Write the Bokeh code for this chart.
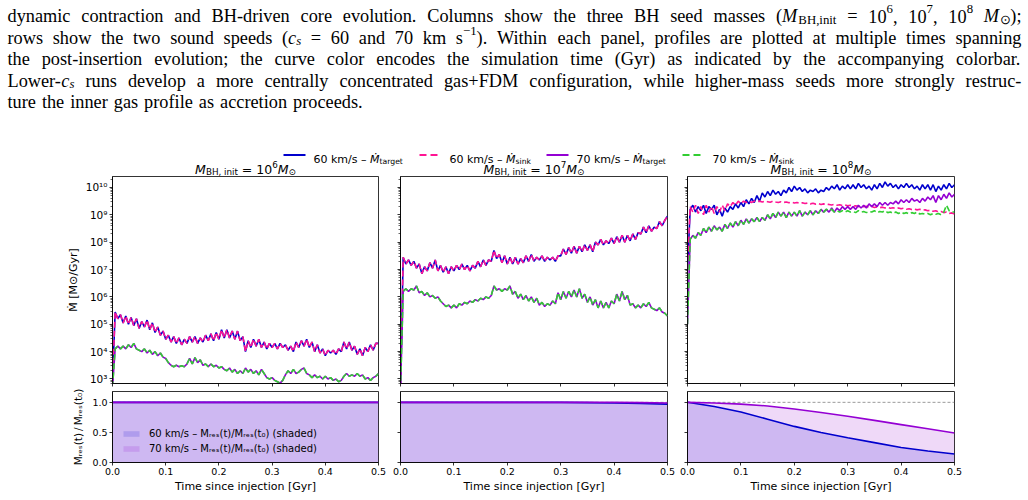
import re
import numpy as np
from bokeh.plotting import figure
from bokeh.layouts import column, row
from bokeh.models import (Range1d, FixedTicker, PrintfTickFormatter, CustomJSTickFormatter,
                          Legend, LegendItem, ColumnDataSource, Span)
from bokeh.embed import file_html
from bokeh.resources import INLINE
from bokeh.core.properties import value, field

# ---------------------------------------------------------------- data
# time since injection [Gyr]
t = np.round(np.arange(101) * 0.005, 3)

# log10 of accretion rate [Msun/Gyr]
p1_60_target = [2.9, 5.45, 5.2, 5.35, 5.05, 5.3, 5.0, 5.25, 4.95, 5.2,
                4.85, 5.1, 4.9, 5.15, 4.8, 5.05, 4.7, 4.9, 4.6, 4.75,
                4.45, 4.6, 4.35, 4.55, 4.3, 4.5, 4.25, 4.45, 4.3, 4.55,
                4.35, 4.55, 4.3, 4.5, 4.35, 4.6, 4.4, 4.65, 4.4, 4.7,
                4.45, 4.8, 4.5, 4.8, 4.5, 4.75, 4.45, 4.75, 4.4, 4.55,
                4.0, 4.4, 4.15, 4.45, 4.2, 4.45, 4.15, 4.35, 4.1, 4.3,
                4.15, 4.3, 4.1, 4.3, 4.15, 4.25, 4.05, 4.2, 4.0, 4.35,
                4.15, 4.4, 4.2, 4.45, 4.15, 4.35, 4.0, 4.25, 3.95, 4.1,
                3.85, 4.05, 3.95, 4.05, 3.9, 4.1, 4.0, 4.35, 4.1, 4.35,
                4.05, 4.2, 3.9, 4.1, 3.85, 4.15, 4.0, 4.25, 4.05, 4.3,
                4.3]
p1_60_sink = p1_60_target
p1_70_target = [2.7, 4.1, 4.2, 4.1, 4.2, 4.1, 4.25, 4.15, 4.3, 4.1,
                4.05, 4.0, 4.1, 3.95, 4.05, 3.9, 4.0, 3.85, 3.95, 3.8,
                3.75, 3.6, 3.5, 3.45, 3.5, 3.45, 3.48, 3.45, 3.55, 3.75,
                3.55, 3.78, 3.6, 3.7, 3.5, 3.55, 3.45, 3.55, 3.45, 3.5,
                3.4, 3.45, 3.35, 3.3, 3.4, 3.25, 3.35, 3.2, 3.3, 3.2,
                3.4, 3.25, 3.35, 3.2, 3.3, 3.15, 3.35, 3.2, 3.05, 3.0,
                3.05, 2.95, 2.9, 2.85, 2.95, 3.15, 3.3, 3.2, 3.35, 3.2,
                3.25, 3.35, 3.4, 3.2, 3.15, 3.05, 3.15, 3.05, 3.1, 3.0,
                3.1, 3.0, 3.05, 2.95, 3.0, 2.9, 2.95, 3.1, 3.2, 3.1,
                3.15, 3.1, 3.2, 3.1, 3.15, 3.0, 3.05, 2.95, 3.05, 3.1,
                3.2]
p1_70_sink = p1_70_target

p2_60_target = [2.8, 7.45, 7.2, 7.35, 7.15, 7.3, 7.05, 7.2, 6.85, 7.1,
                6.95, 7.25, 7.05, 7.35, 6.95, 7.15, 6.9, 7.1, 6.85, 7.1,
                6.95, 7.15, 7.0, 7.2, 7.0, 7.15, 6.95, 7.15, 7.05, 7.3,
                7.1, 7.35, 7.15, 7.35, 7.3, 7.7, 7.4, 7.55, 7.25, 7.5,
                7.2, 7.45, 7.2, 7.45, 7.2, 7.4, 7.25, 7.5, 7.3, 7.55,
                7.3, 7.45, 7.35, 7.5, 7.3, 7.45, 7.35, 7.45, 7.3, 7.5,
                7.5, 7.75, 7.55, 7.8, 7.6, 7.85, 7.6, 7.85, 7.65, 7.9,
                7.7, 7.9, 7.65, 8.0, 7.9, 8.1, 7.9, 8.05, 7.95, 8.15,
                7.95, 8.2, 8.0, 8.25, 8.0, 8.25, 8.05, 8.3, 8.1, 8.35,
                8.3, 8.55, 8.35, 8.6, 8.4, 8.55, 8.5, 8.75, 8.6, 8.8,
                8.95]
p2_60_sink = p2_60_target
p2_70_target = [2.6, 6.2, 6.3, 6.2, 6.3, 6.25, 6.4, 6.15, 6.2, 6.05,
                6.15, 6.0, 6.05, 5.95, 6.0, 5.85, 5.75, 5.65, 5.7, 5.6,
                5.7, 5.6, 5.75, 5.7, 5.8, 5.75, 5.85, 5.8, 5.9, 5.85,
                5.95, 5.9, 6.0, 5.95, 6.05, 6.4, 6.25, 6.3, 6.2, 6.3,
                6.25, 6.4, 6.1, 6.2, 5.95, 6.1, 5.9, 6.05, 5.85, 6.0,
                5.8, 5.95, 5.7, 5.8, 5.65, 5.75, 5.7, 5.85, 5.75, 6.15,
                5.9, 6.2, 5.95, 6.2, 6.0, 6.25, 6.0, 6.3, 5.95, 6.1,
                5.8, 6.0, 5.7, 5.9, 5.6, 5.85, 5.6, 5.8, 5.6, 5.85,
                5.75, 6.1, 5.85, 6.2, 5.9, 6.05, 5.7, 5.75, 5.6, 5.7,
                5.6, 5.75, 5.65, 5.8, 5.6, 5.55, 5.5, 5.6, 5.45, 5.4,
                5.3]
p2_70_sink = p2_70_target

p3_60_target = [7.0, 9.2, 9.35, 9.1, 9.3, 9.15, 9.35, 9.05, 9.3, 9.2,
                9.35, 9.0, 9.2, 8.95, 9.25, 9.1, 9.3, 9.2, 9.4, 9.25,
                9.45, 9.3, 9.55, 9.4, 9.6, 9.45, 9.7, 9.5, 9.8, 9.65,
                9.85, 9.7, 9.9, 9.75, 9.85, 9.7, 9.9, 9.8, 10.0, 9.85,
                10.05, 9.9, 10.0, 9.85, 9.95, 9.8, 9.9, 9.85, 9.95, 9.8,
                9.9, 9.85, 10.0, 9.9, 10.05, 9.95, 10.1, 9.9, 10.05, 9.95,
                10.1, 9.95, 10.1, 9.95, 10.15, 10.0, 10.1, 9.95, 10.05, 9.9,
                10.1, 9.95, 10.15, 10.0, 10.2, 10.05, 10.15, 10.0, 10.1, 9.95,
                10.1, 10.0, 10.15, 10.0, 10.1, 9.95, 10.05, 9.9, 10.1, 9.95,
                10.1, 9.9, 10.1, 9.85, 10.05, 9.9, 10.1, 9.95, 10.15, 10.0,
                10.1]
p3_60_sink = [7.0, 9.3, 9.1, 9.35, 9.05, 9.3, 9.0, 9.35, 9.1, 9.3,
              9.05, 9.3, 9.1, 9.35, 9.15, 9.4, 9.3, 9.45, 9.35, 9.5,
              9.4, 9.5, 9.45, 9.5, 9.45, 9.5, 9.48, 9.5, 9.47, 9.5,
              9.48, 9.46, 9.5, 9.47, 9.45, 9.48, 9.45, 9.47, 9.44, 9.46,
              9.43, 9.45, 9.42, 9.44, 9.41, 9.43, 9.4, 9.42, 9.39, 9.41,
              9.38, 9.4, 9.37, 9.38, 9.36, 9.38, 9.35, 9.37, 9.34, 9.36,
              9.33, 9.35, 9.32, 9.33, 9.3, 9.32, 9.3, 9.31, 9.28, 9.3,
              9.27, 9.29, 9.26, 9.28, 9.25, 9.27, 9.24, 9.26, 9.23, 9.25,
              9.22, 9.24, 9.2, 9.22, 9.19, 9.21, 9.18, 9.2, 9.17, 9.18,
              9.15, 9.17, 9.13, 9.15, 9.1, 9.12, 9.08, 9.1, 9.05, 9.07,
              9.03]
p3_70_target = [5.0, 8.1, 8.25, 8.15, 8.35, 8.25, 8.5, 8.35, 8.55, 8.4,
                8.6, 8.45, 8.55, 8.4, 8.65, 8.5, 8.7, 8.55, 8.75, 8.6,
                8.8, 8.65, 8.85, 8.7, 8.85, 8.75, 8.9, 8.75, 8.9, 8.8,
                9.0, 8.85, 9.05, 8.9, 9.1, 8.95, 9.1, 8.9, 9.1, 8.95,
                9.1, 8.95, 9.15, 8.95, 9.1, 9.0, 9.15, 9.0, 9.15, 9.05,
                9.2, 9.1, 9.2, 9.1, 9.25, 9.1, 9.25, 9.15, 9.3, 9.2,
                9.3, 9.2, 9.3, 9.2, 9.35, 9.25, 9.35, 9.25, 9.4, 9.3,
                9.4, 9.3, 9.45, 9.35, 9.45, 9.35, 9.45, 9.4, 9.5, 9.4,
                9.55, 9.45, 9.55, 9.45, 9.6, 9.5, 9.55, 9.45, 9.6, 9.5,
                9.65, 9.55, 9.7, 9.45, 9.7, 9.55, 9.75, 9.6, 9.8, 9.65,
                9.75]
p3_70_sink = p3_70_target[:53] + [
                9.15, 9.2, 9.1, 9.15, 9.1, 9.15, 9.1,
                9.15, 9.1, 9.12, 9.08, 9.15, 9.1, 9.12, 9.08, 9.12, 9.1,
                9.15, 9.08, 9.12, 9.1, 9.15, 9.08, 9.1, 9.05, 9.1, 9.05,
                9.1, 9.05, 9.08, 9.03, 9.08, 9.05, 9.1, 9.03, 9.05, 9.02,
                9.05, 9.0, 9.05, 9.02, 9.05, 9.0, 9.1, 9.35, 9.15, 9.1,
                9.1]

# reservoir mass fraction M_res(t)/M_res(t0)
t_res = [0.0, 0.05, 0.1, 0.15, 0.2, 0.25, 0.3, 0.35, 0.4, 0.45, 0.5]
res1_60 = [1.0, 1.0, 1.0, 1.0, 1.0, 1.0, 1.0, 1.0, 1.0, 1.0, 1.0]
res1_70 = [1.0, 1.0, 1.0, 1.0, 1.0, 1.0, 1.0, 1.0, 1.0, 1.0, 1.0]
res2_60 = [1.0, 1.0, 1.0, 1.0, 1.0, 1.0, 1.0, 0.995, 0.99, 0.98, 0.97]
res2_70 = [1.0, 1.0, 1.0, 1.0, 1.0, 1.0, 1.0, 1.0, 1.0, 0.995, 0.99]
res3_60 = [1.0, 0.93, 0.84, 0.72, 0.60, 0.50, 0.41, 0.33, 0.25, 0.19, 0.14]
res3_70 = [1.0, 0.99, 0.97, 0.94, 0.89, 0.83, 0.77, 0.70, 0.63, 0.56, 0.49]

seed_exponents = ["6", "7", "8"]
x_ticks = [0.0, 0.1, 0.2, 0.3, 0.4, 0.5]
res_ticks = [0.0, 0.5, 1.0]
log_major = [10.0 ** k for k in range(3, 11)]
log_minor = [m * 10.0 ** k for k in range(2, 11) for m in range(2, 10)]

caption_lines = [
    r"dynamic contraction and BH-driven core evolution. Columns show the three BH seed masses (\it{M}\sub{BH,init} = 10\sup{6}, 10\sup{7}, 10\sup{8} \it{M}\sub{⊙});",
    r"rows show the two sound speeds (\it{c}\subit{s} = 60 and 70 km s\sup{−1}). Within each panel, profiles are plotted at multiple times spanning",
    r"the post-insertion evolution; the curve color encodes the simulation time (Gyr) as indicated by the accompanying colorbar.",
    r"Lower-\it{c}\subit{s} runs develop a more centrally concentrated gas+FDM configuration, while higher-mass seeds more strongly restruc-",
    r"ture the inner gas profile as accretion proceeds.",
]

# ---------------------------------------------------------------- style
BLUE = "#0000cd"
PINK = "#ff1493"
PURPLE = "#9400d3"
GREEN = "#32cd32"
SANS = "DejaVu Sans"
SERIF = "Liberation Serif"

TOP_H = 176
UP_H = 207
UP_BOT = 5
LO_TOP = 3
LO_H = 71
LO_BOT = 38
BORDERS = [(112, 12), (10, 11), (9, 74)]
FRAME_W = [266, 267, 267]

TIMES = {' ': .25, '.': .25, ',': .25, ';': .278, ':': .278, '(': .333, ')': .333, '-': .333,
         '+': .564, '=': .564, '−': .564, '⊙': .8,
         'a': .444, 'b': .5, 'c': .444, 'd': .5, 'e': .444, 'f': .333, 'g': .5, 'h': .5, 'i': .278,
         'j': .278, 'k': .5, 'l': .278, 'm': .778, 'n': .5, 'o': .5, 'p': .5, 'q': .5, 'r': .333,
         's': .389, 't': .278, 'u': .5, 'v': .5, 'w': .722, 'x': .5, 'y': .5, 'z': .444,
         'A': .722, 'B': .667, 'C': .667, 'D': .722, 'E': .611, 'F': .556, 'G': .722, 'H': .722,
         'I': .333, 'J': .389, 'K': .722, 'L': .611, 'M': .889, 'N': .722, 'O': .722, 'P': .556,
         'Q': .722, 'R': .667, 'S': .556, 'T': .611, 'U': .722, 'V': .722, 'W': .944, 'X': .722,
         'Y': .722, 'Z': .611}
for d in "0123456789":
    TIMES[d] = .5
DEJAVU = {' ': .318, 'k': .579, 'm': .974, '/': .337, 's': .521, '–': .5, 't': .392, 'a': .613,
          'r': .411, 'g': .635, 'e': .615, 'i': .278, 'n': .634, 'B': .686, 'H': .752, ',': .318,
          'M': .863, '=': .838, '⊙': .838, 'Ṁ': .863}
for d in "0123456789":
    DEJAVU[d] = .636

STYLE = {'rm': (1.0, 0.0, 'normal'), 'it': (1.0, 0.0, 'italic'),
         'sub': (0.7, 0.2, 'normal'), 'subit': (0.7, 0.2, 'italic'),
         'sup': (0.7, -0.38, 'normal')}
PAT = re.compile(r'\\(it|subit|sub|sup)\{([^}]*)\}')


def parse(s):
    runs, pos = [], 0
    for m in PAT.finditer(s):
        if m.start() > pos:
            runs.append((s[pos:m.start()], 'rm'))
        runs.append((m.group(2), m.group(1)))
        pos = m.end()
    if pos < len(s):
        runs.append((s[pos:], 'rm'))
    return runs


def runs_em(runs, table):
    return sum(sum(table.get(c, .6) for c in txt) * STYLE[st][0] for txt, st in runs)


bufs = {SERIF: dict(x=[], y=[], text=[], size=[], style=[]),
        SANS: dict(x=[], y=[], text=[], size=[], style=[])}


def put(runs, x, y, size, family, table):
    b = bufs[family]
    for txt, st in runs:
        k, dy, fs = STYLE[st]
        s = size * k
        # SVG collapses leading blanks: advance over them instead of drawing them
        lead = len(txt) - len(txt.lstrip(' '))
        x += lead * table[' '] * s
        body = txt.strip(' ')
        if body:
            b['x'].append(x)
            b['y'].append(y + dy * size)
            b['text'].append(body)
            b['size'].append(f"{s:.2f}px")
            b['style'].append(fs)
        x += sum(table.get(c, .6) for c in txt[lead:]) * s
    return x


# ---------------------------------------------------------------- top text figure
tp = figure(width=1028, height=TOP_H, x_range=Range1d(0, 1028), y_range=Range1d(TOP_H, 0),
            x_axis_type=None, y_axis_type=None, min_border=0, outline_line_color=None,
            output_backend="svg", toolbar_location=None)
tp.xgrid.grid_line_color = None
tp.ygrid.grid_line_color = None

X0, X1 = 7.0, 1021.0
baselines = [15.5, 37.0, 58.5, 80.0, 101.5]
words_all = [[parse(w) for w in line.split(' ')] for line in caption_lines]
nat = max(sum(runs_em(w, TIMES) for w in ws) + (len(ws) - 1) * TIMES[' ']
          for ws in words_all[:-1])
FS = min(18.3, 0.985 * (X1 - X0) / nat)
for i, ws in enumerate(words_all):
    widths = [runs_em(w, TIMES) * FS for w in ws]
    if i < len(words_all) - 1:
        gap = (X1 - X0 - sum(widths)) / (len(ws) - 1)
    else:
        gap = TIMES[' '] * FS * 1.3
    x = X0
    for w, wd in zip(ws, widths):
        put(w, x, baselines[i], FS, SERIF, TIMES)
        x += wd + gap

# figure legend (top)
legend_entries = [
    (r"60 km/s – \it{Ṁ}\sub{target}", BLUE, "solid", 283),
    (r"60 km/s – \it{Ṁ}\sub{sink}", PINK, "7 4", 419),
    (r"70 km/s – \it{Ṁ}\sub{target}", PURPLE, "solid", 546),
    (r"70 km/s – \it{Ṁ}\sub{sink}", GREEN, "7 4", 682),
]
for label, color, dash, lx in legend_entries:
    tp.line(x=[lx, lx + 22], y=[154.5, 154.5], line_color=color, line_width=2, line_dash=dash)
    put(parse(label), lx + 30, 158.5, 11, SANS, DEJAVU)

# panel titles
centers = [112 + 133, 400 + 133.5, 687 + 133.5]
for c, e in zip(centers, seed_exponents):
    runs = parse(r"\it{M}\sub{BH, init} = 10\sup{" + e + r"}\it{M}\sub{⊙}")
    w = runs_em(runs, DEJAVU) * 12.5
    put(runs, c - w / 2, 168.5, 12.5, SANS, DEJAVU)

for fam, b in bufs.items():
    tp.text(source=ColumnDataSource(b), x='x', y='y', text='text', text_font=value(fam),
            text_font_size=field('size'), text_font_style=field('style'),
            text_baseline="alphabetic", text_align="left", text_color="black")


# ---------------------------------------------------------------- panels
EMPTY = CustomJSTickFormatter(code="return '';")


def style_axes(p, show_x, show_y, ylab_size="9.5px"):
    p.xgrid.grid_line_color = None
    p.ygrid.grid_line_color = None
    p.outline_line_color = "black"
    p.outline_line_width = 0.8
    for ax in list(p.xaxis) + list(p.yaxis):
        ax.axis_line_color = "black"
        ax.axis_line_width = 0.8
        ax.major_tick_line_color = "black"
        ax.major_tick_line_width = 0.8
        ax.minor_tick_line_color = "black"
        ax.minor_tick_line_width = 0.6
        ax.major_tick_in = 0
        ax.major_tick_out = 3
        ax.minor_tick_in = 0
        ax.minor_tick_out = 2
        ax.major_label_text_font = SANS
        ax.major_label_text_font_size = "9.5px"
        ax.major_label_text_color = "black"
        ax.major_label_standoff = 2
        ax.axis_label_text_font = SANS
        ax.axis_label_text_font_size = "11px"
        ax.axis_label_text_font_style = "normal"
        ax.axis_label_text_color = "black"
        ax.axis_label_standoff = 3
    p.yaxis.major_label_text_font_size = ylab_size
    if not show_x:
        p.xaxis.formatter = EMPTY
        p.xaxis.major_label_text_font_size = "1px"
        p.xaxis.major_label_standoff = 0
    if not show_y:
        p.yaxis.formatter = EMPTY
        p.yaxis.major_label_text_font_size = "1px"
        p.yaxis.major_label_standoff = 0


SUP_CODE = """
const s = ['\u2070','\u00b9','\u00b2','\u00b3','\u2074','\u2075','\u2076','\u2077','\u2078','\u2079'];
const e = Math.round(Math.log10(tick));
return '10' + String(e).split('').map(d => s[Number(d)]).join('');
"""

panels = [
    dict(m60t=p1_60_target, m60s=p1_60_sink, m70t=p1_70_target, m70s=p1_70_sink, r60=res1_60, r70=res1_70),
    dict(m60t=p2_60_target, m60s=p2_60_sink, m70t=p2_70_target, m70s=p2_70_sink, r60=res2_60, r70=res2_70),
    dict(m60t=p3_60_target, m60s=p3_60_sink, m70t=p3_70_target, m70s=p3_70_sink, r60=res3_60, r70=res3_70),
]


def make_upper(ci, pan):
    bl, br = BORDERS[ci]
    p = figure(width=bl + FRAME_W[ci] + br, height=UP_H + UP_BOT, y_axis_type="log",
               x_range=Range1d(0, 0.5), y_range=Range1d(10 ** 2.835, 10 ** 10.4),
               min_border_left=bl, min_border_right=br, min_border_top=0, min_border_bottom=UP_BOT,
               output_backend="svg", toolbar_location=None)
    p.line(t, 10.0 ** np.array(pan["m60t"]), line_color=BLUE, line_width=1.6)
    p.line(t, 10.0 ** np.array(pan["m60s"]), line_color=PINK, line_width=1.6, line_dash="6 3")
    p.line(t, 10.0 ** np.array(pan["m70t"]), line_color=PURPLE, line_width=1.6)
    p.line(t, 10.0 ** np.array(pan["m70s"]), line_color=GREEN, line_width=1.6, line_dash="6 3")
    p.xaxis.ticker = FixedTicker(ticks=x_ticks, minor_ticks=[])
    p.yaxis.ticker = FixedTicker(ticks=log_major, minor_ticks=log_minor)
    p.yaxis.formatter = CustomJSTickFormatter(code=SUP_CODE)
    style_axes(p, False, ci == 0, ylab_size="10.5px")
    if ci == 0:
        p.yaxis.axis_label = "Ṁ [M⊙/Gyr]"
    return p


def make_lower(ci, pan):
    bl, br = BORDERS[ci]
    p = figure(width=bl + FRAME_W[ci] + br, height=LO_TOP + LO_H + LO_BOT,
               x_range=Range1d(0, 0.5), y_range=Range1d(0, 1.18),
               min_border_left=bl, min_border_right=br, min_border_top=LO_TOP, min_border_bottom=LO_BOT,
               output_backend="svg", toolbar_location=None)
    p.add_layout(Span(location=1.0, dimension="width", line_color="#808080", line_dash="3 2",
                      line_width=0.8, level="underlay"))
    a60 = p.varea(x=t_res, y1=[0.0] * len(t_res), y2=pan["r60"], fill_color=BLUE, fill_alpha=0.15)
    a70 = p.varea(x=t_res, y1=[0.0] * len(t_res), y2=pan["r70"], fill_color=PURPLE, fill_alpha=0.15)
    p.line(t_res, pan["r60"], line_color=BLUE, line_width=1.6)
    p.line(t_res, pan["r70"], line_color=PURPLE, line_width=1.6)
    p.xaxis.ticker = FixedTicker(ticks=x_ticks, minor_ticks=[])
    p.xaxis.formatter = PrintfTickFormatter(format="%.1f")
    p.yaxis.ticker = FixedTicker(ticks=res_ticks, minor_ticks=[])
    p.yaxis.formatter = PrintfTickFormatter(format="%.1f")
    style_axes(p, True, ci == 0)
    p.xaxis.axis_label = "Time since injection [Gyr]"
    p.xaxis.axis_label_standoff = 2
    if ci == 0:
        p.yaxis.axis_label = "Mᵣₑₛ(t)\u2009/\u2009Mᵣₑₛ(t₀)"
        p.yaxis.axis_label_text_font_size = "10.5px"
        p.yaxis.axis_label_standoff = 5
        leg = Legend(items=[LegendItem(label="60 km/s – Mᵣₑₛ(t)/Mᵣₑₛ(t₀) (shaded)", renderers=[a60]),
                            LegendItem(label="70 km/s – Mᵣₑₛ(t)/Mᵣₑₛ(t₀) (shaded)", renderers=[a70])],
                     location=(1, 0), margin=0, padding=8, spacing=3,
                     glyph_width=20, glyph_height=7, label_height=12, label_standoff=8,
                     label_text_font=SANS, label_text_font_size="10px", label_text_color="black",
                     background_fill_alpha=0, border_line_alpha=0)
        p.add_layout(leg)
    return p


uppers = [make_upper(i, pan) for i, pan in enumerate(panels)]
lowers = [make_lower(i, pan) for i, pan in enumerate(panels)]

layout = column(tp, row(*uppers), row(*lowers))
open("out.html", "w").write(file_html(layout, INLINE))
